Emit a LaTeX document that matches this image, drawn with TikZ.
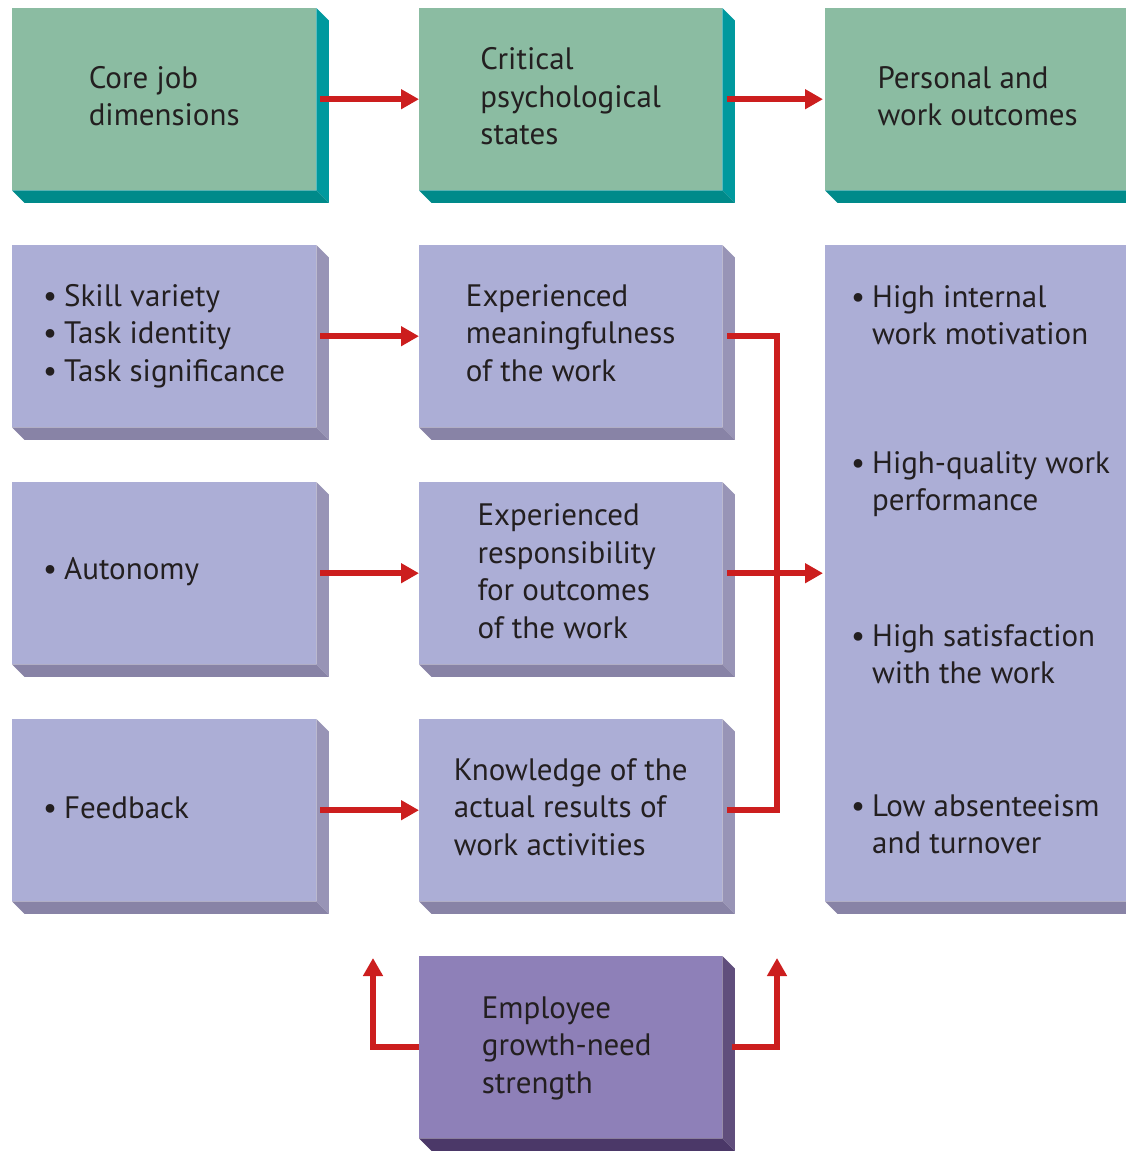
\documentclass[tikz,border=0pt]{standalone}
\usepackage{fontspec}
\setmainfont{PT Sans}
\usetikzlibrary{arrows.meta}
\definecolor{gface}{HTML}{8BBCA2}
\definecolor{gside}{HTML}{00999E}
\definecolor{gbot}{HTML}{008A8A}
\definecolor{pface}{HTML}{ACAED6}
\definecolor{pside}{HTML}{9894B6}
\definecolor{pbot}{HTML}{8883A6}
\definecolor{dface}{HTML}{8E80B8}
\definecolor{dside}{HTML}{604E7C}
\definecolor{dbot}{HTML}{4B3868}
\definecolor{redc}{HTML}{CC1E1E}
\definecolor{txtc}{HTML}{231F20}
\newcommand\bul{\makebox[21pt][l]{\textbullet}}
\newcommand\ind{\makebox[21pt][l]{}}
% \tdbox{name}{x1}{y1}{x2}{y2}{face}{side}{bottom}
\newcommand\tdbox[8]{%
  \node[fill=#6, minimum width=#4-#2, minimum height=#5-#3, anchor=north west, inner sep=0pt] (#1) at (#2,#3) {};
  \fill[#7] (#1.north east) -- ++(12.5,12.5) -- ([shift={(12.5,12.5)}]#1.south east) -- (#1.south east) -- cycle;
  \fill[#8] (#1.south west) -- (#1.south east) -- ++(12.5,12.5) -- ([shift={(12.5,12.5)}]#1.south west) -- cycle;
}
\tikzset{
  txt/.style={align=left, text=txtc, font=\fontsize{31}{37.5}\selectfont, inner sep=0pt},
  conn/.style={draw=redc, line width=5.5pt, line join=miter},
  arr/.style={conn, -{Triangle[length=18pt,width=19pt]}},
}
\begin{document}
\begin{tikzpicture}[x=1pt,y=-1pt]
\useasboundingbox[fill=white] (0,0) rectangle (1125,1151);
% top row
\tdbox{h1}{12}{8}{316}{190}{gface}{gside}{gbot}
\tdbox{h2}{419}{8}{722}{190}{gface}{gside}{gbot}
\tdbox{h3}{825}{8}{1130}{190}{gface}{gside}{gbot}
% left column
\tdbox{a1}{12}{245}{316}{427}{pface}{pside}{pbot}
\tdbox{a2}{12}{482}{316}{664}{pface}{pside}{pbot}
\tdbox{a3}{12}{719}{316}{901}{pface}{pside}{pbot}
% middle column
\tdbox{m1}{419}{245}{722}{427}{pface}{pside}{pbot}
\tdbox{m2}{419}{482}{722}{664}{pface}{pside}{pbot}
\tdbox{m3}{419}{719}{722}{901}{pface}{pside}{pbot}
% right outcome box
\tdbox{out}{825}{245}{1130}{901}{pface}{pside}{pbot}
% bottom moderator
\tdbox{g}{419}{956}{722}{1138}{dface}{dside}{dbot}

% texts
\node[txt] (th1) at ([yshift=3pt]h1) {Core job\\dimensions};
\node[txt] (th2) at ([yshift=3pt]h2) {Critical\\psychological\\states};
\node[txt] (th3) at ([yshift=3pt]h3) {Personal and\\work outcomes};

\node[txt, anchor=west] (ta1) at ([xshift=31pt]a1.west) {\bul Skill variety\\\bul Task identity\\\bul Task significance};
\node[txt, anchor=west] (ta2) at ([xshift=31pt,yshift=2pt]a2.west) {\bul Autonomy};
\node[txt, anchor=west] (ta3) at ([xshift=31pt,yshift=2pt]a3.west) {\bul Feedback};

\node[txt] (tm1) at ([yshift=3pt]m1) {Experienced\\meaningfulness\\of the work};
\node[txt] (tm2) at ([xshift=-4pt,yshift=2pt]m2) {Experienced\\responsibility\\for outcomes\\of the work};
\node[txt] (tm3) at ([yshift=3pt]m3) {Knowledge of the\\actual results of\\work activities};

\node[txt, anchor=west] (o1) at (851,315) {\bul High internal\\\ind work motivation};
\node[txt, anchor=west] (o2) at (851,484) {\bul High-quality work\\\ind performance};
\node[txt, anchor=west] (o3) at (851,654) {\bul High satisfaction\\\ind with the work};
\node[txt, anchor=west] (o4) at (851,824) {\bul Low absenteeism\\\ind and turnover};

\node[txt] (tg) at ([xshift=-4pt,yshift=-1pt]g) {Employee\\growth-need\\strength};

% connectors
\draw[arr] ([xshift=4pt]h1.east) -- (h2.west);
\draw[arr] ([xshift=5pt]h2.east) -- ([xshift=-2pt]h3.west);
\draw[arr] ([xshift=4pt]a1.east) -- (m1.west);
\draw[arr] ([xshift=4pt]a2.east) -- (m2.west);
\draw[arr] ([xshift=4pt]a3.east) -- (m3.west);

\coordinate (jx) at (777,0);
\draw[conn] ([xshift=5pt]m1.east) -| (jx |- m3.east) -- ([xshift=5pt]m3.east);
\draw[arr] ([xshift=5pt]m2.east) -- ([xshift=-2pt]out.west |- m2.east);

\coordinate (gl) at (373,958);
\coordinate (gr) at (777,958);
\draw[arr] (g.west) -| (gl);
\draw[arr] ([xshift=10pt]g.east) -| (gr);
\end{tikzpicture}
\end{document}
